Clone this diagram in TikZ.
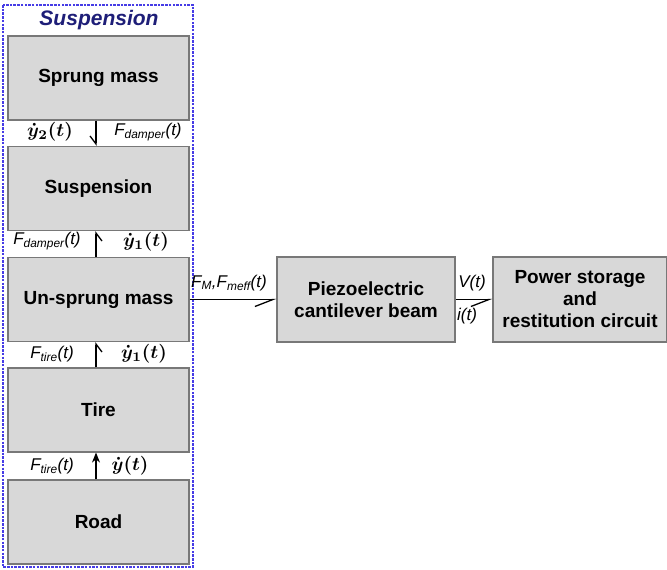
\documentclass[tikz,border=0pt]{standalone}
\usepackage{fontspec}
\setmainfont{Liberation Sans}
\usetikzlibrary{arrows.meta}
\definecolor{boxfill}{RGB}{216,216,216}
\definecolor{boxline}{RGB}{120,120,120}
\definecolor{frameblue}{RGB}{70,60,230}
\definecolor{titleblue}{RGB}{30,30,120}
\begin{document}
\begin{tikzpicture}[x=1pt,y=-1pt,
  blk/.style={draw=boxline, line width=1.2pt, fill=boxfill, font=\bfseries\fontsize{19}{22}\selectfont, align=center, inner sep=0pt},
  colblk/.style={blk, minimum width=181pt, minimum height=84pt},
  lbl/.style={font=\itshape\fontsize{17}{19}\selectfont, inner sep=1pt},
  mlbl/.style={font=\boldmath, inner sep=1pt, scale=1.9, transform shape},
  conn/.style={line width=1.3pt, black},
  hv/.style={-{Straight Barb[harpoon,swap,length=8pt,width=12pt]}},
  hh/.style={-{Straight Barb[harpoon,swap,length=18pt,width=14pt]}}
]
\useasboundingbox (0,0) rectangle (667,570);
\fill[white] (0,0) rectangle (667,570);
\draw[frameblue, dash pattern=on 2.5pt off 1.2pt, line width=1.3pt] (3,5) rectangle (193,567);
\node[font=\bfseries\itshape\fontsize{21}{24}\selectfont, text=titleblue] (title) at (99,20) {Suspension};

\node[colblk] (sprung) at (98.5,78) {Sprung mass};
\node[colblk] (susp) at (98.5,188.5) {Suspension};
\node[colblk] (unsprung) at (98.5,299.5) {Un-sprung mass};
\node[colblk] (tire) at (98.5,410) {Tire};
\node[colblk] (road) at (98.5,522) {Road};
\node[blk, minimum width=178pt, minimum height=85pt] (piezo) at (366,299.5) {Piezoelectric\\cantilever beam};
\node[blk, minimum width=174pt, minimum height=85pt] (power) at (580,299.5) {Power storage\\and\\restitution circuit};

\draw[conn,hv] (sprung.south -| 96,0) -- (susp.north -| 96,0);
\draw[conn,hv] (unsprung.north -| 96,0) -- (susp.south -| 96,0);
\draw[conn,hv] (tire.north -| 96,0) -- (unsprung.south -| 96,0);
\draw[conn,-{Stealth[length=10pt,width=8pt]}] (road.north -| 96,0) -- (tire.south -| 96,0);
\draw[conn,hh] (unsprung.east) -- (piezo.west);
\draw[conn,hh] (piezo.east) -- (power.west);

\node[mlbl] (l1) at (50,132) {$\dot{y}_2(t)$};
\node[lbl] (l2) at (148,132) {F\textsubscript{damper}(t)};
\node[lbl] (l3) at (47,241) {F\textsubscript{damper}(t)};
\node[mlbl] (l4) at (146,242) {$\dot{y}_1(t)$};
\node[lbl] (l5) at (52,354) {F\textsubscript{tire}(t)};
\node[mlbl] (l6) at (144,354) {$\dot{y}_1(t)$};
\node[lbl] (l7) at (52,466) {F\textsubscript{tire}(t)};
\node[mlbl] (l8) at (130,466) {$\dot{y}(t)$};
\node[lbl, anchor=west] (l9) at (190,283) {F\textsubscript{M},F\textsubscript{meff}(t)};
\node[lbl] (l10) at (472,283) {V(t)};
\node[lbl] (l11) at (467,316) {i(t)};
\end{tikzpicture}
\end{document}
